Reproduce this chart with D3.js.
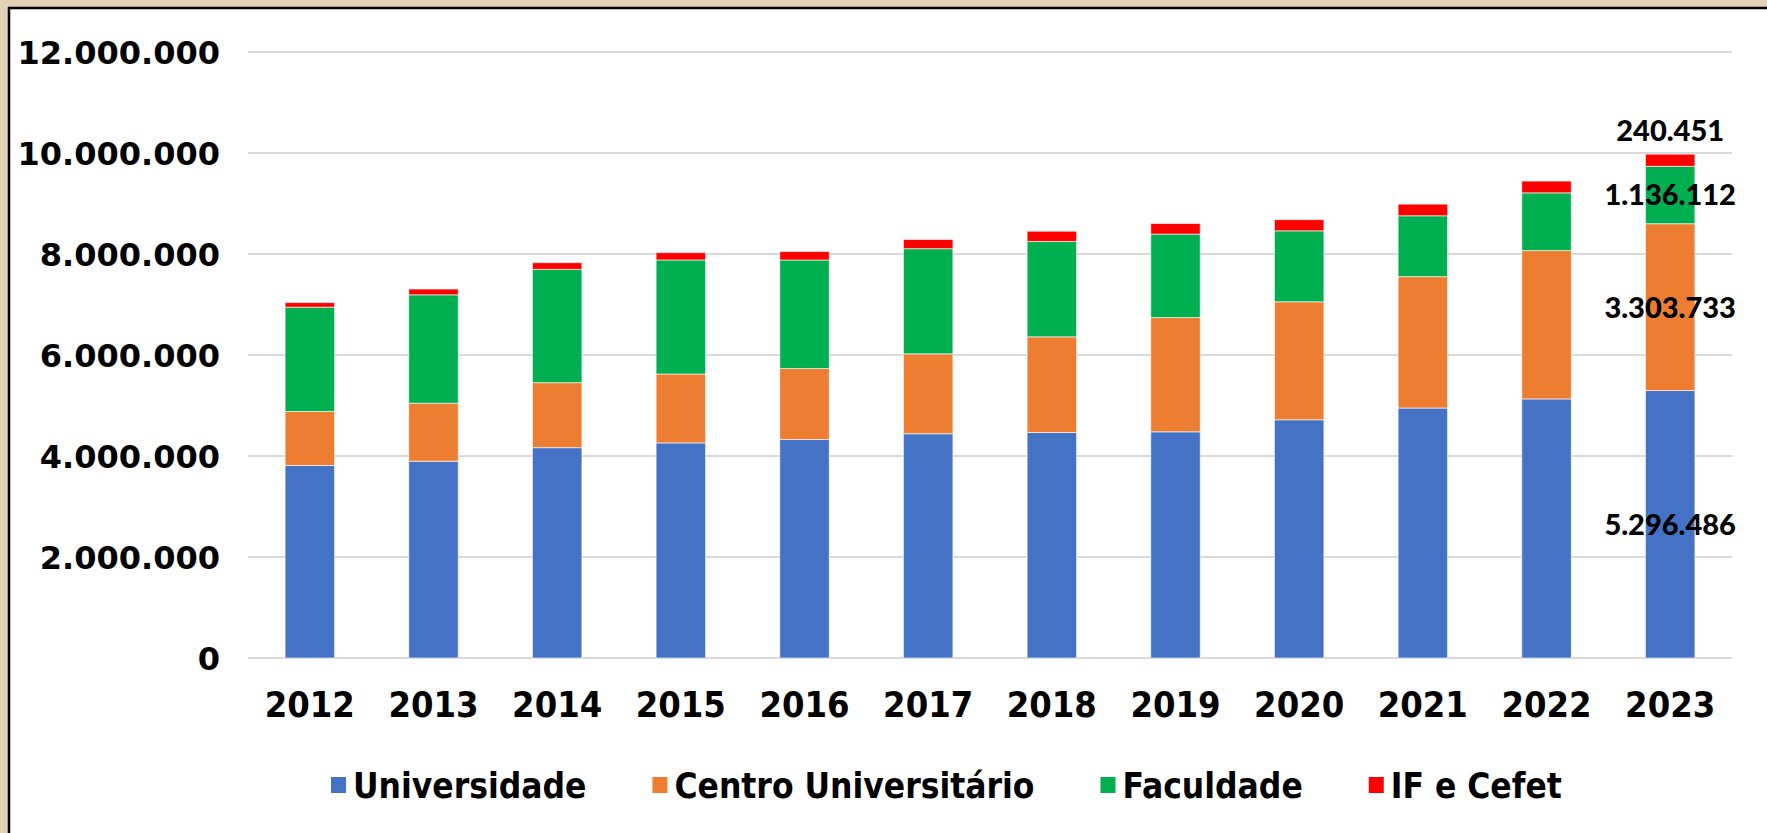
<!DOCTYPE html>
<html>
<head>
<meta charset="utf-8">
<script src="https://cdn.jsdelivr.net/npm/d3@7"></script>
<style>
  html, body { margin: 0; padding: 0; background: #e2d3b8; }
  svg { display: block; }
</style>
</head>
<body>
<div class="vis-stack"></div>
<script>
// matrículas por organização acadêmica, 2012-2023
const years = ['2012', '2013', '2014', '2015', '2016', '2017', '2018', '2019', '2020', '2021', '2022', '2023'];
const seriesNames = ['Universidade', 'Centro Universitário', 'Faculdade', 'IF e Cefet'];
const universidade = [3812000, 3896000, 4165000, 4259000, 4327000, 4441000, 4465000, 4479000, 4717000, 4950000, 5130000, 5296486];
const centroUniv = [1070000, 1150000, 1287000, 1365000, 1406000, 1582000, 1895000, 2263000, 2337000, 2602000, 2938000, 3303733];
const faculdade = [2065000, 2146000, 2244000, 2258000, 2148000, 2082000, 1889000, 1652000, 1405000, 1205000, 1143000, 1136112];
const ifCefet = [91000, 114000, 132000, 145000, 168000, 182000, 202000, 210000, 221000, 230000, 233000, 240451];
const colors = ['#4472C4', '#ED7D31', '#00B050', '#FF0000'];
const yTicks = [0, 2000000, 4000000, 6000000, 8000000, 10000000, 12000000];

const W = 1767, H = 833;
const margin = { top: 52, right: 35, bottom: 175, left: 248 };

const fmt = (v) => d3.format(',')(v).replace(/,/g, '.');

const dataset = years.map((y, i) => ({
  year: y,
  'Universidade': universidade[i],
  'Centro Universitário': centroUniv[i],
  'Faculdade': faculdade[i],
  'IF e Cefet': ifCefet[i]
}));

const svg = d3.select('.vis-stack').append('svg').attr('width', W).attr('height', H);

// parchment edge + white chart panel
svg.append('rect').attr('x', 0).attr('y', 0).attr('width', W).attr('height', H).attr('fill', '#e2d3b8');
svg.append('rect').attr('x', 9).attr('y', 8).attr('width', W).attr('height', H)
  .attr('fill', '#fff').attr('stroke', '#000').attr('stroke-width', 2.5);

const x = d3.scaleBand().domain(years).range([margin.left, W - margin.right]).paddingInner(0.6).paddingOuter(0.3);
const y = d3.scaleLinear().domain([0, 12000000]).range([658, margin.top]);

// gridlines
svg.append('g').selectAll('line').data(yTicks).enter().append('line')
  .attr('x1', margin.left).attr('x2', W - margin.right)
  .attr('y1', (d) => y(d)).attr('y2', (d) => y(d))
  .attr('stroke', '#d9d9d9').attr('stroke-width', 2);

// y tick labels
svg.append('g').selectAll('text').data(yTicks).enter().append('text')
  .attr('x', 220).attr('y', (d) => y(d)).attr('dy', '0.36em')
  .attr('text-anchor', 'end')
  .style('font-family', 'DejaVu Sans').style('font-weight', 'bold').style('font-size', '32px')
  .text((d) => fmt(d));

const stack = d3.stack().keys(seriesNames);
const layers = stack(dataset);

const layerG = svg.selectAll('.layer').data(layers).enter().append('g')
  .attr('class', 'layer').attr('fill', (d, i) => colors[i]);

layerG.selectAll('rect').data((d) => d).enter().append('rect')
  .attr('x', (d) => x(d.data.year))
  .attr('width', x.bandwidth())
  .attr('y', (d) => y(d[1]))
  .attr('height', (d) => y(d[0]) - y(d[1]))
  .attr('stroke', 'rgba(255,255,255,0.6)').attr('stroke-width', 1);

// x labels
svg.append('g').selectAll('text').data(years).enter().append('text')
  .attr('x', (d) => x(d) + x.bandwidth() / 2).attr('y', 717)
  .attr('text-anchor', 'middle')
  .style('font-family', 'DejaVu Sans Condensed').style('font-weight', 'bold').style('font-size', '36px')
  .text((d) => d);

// data labels for last year
const last = years.length - 1;
const lblX = x(years[last]) + x.bandwidth() / 2;
const lbls = layers.map((L, i) => {
  const d = L[last];
  const v = d[1] - d[0];
  const yy = i === layers.length - 1 ? y(d[1]) - 24 : y((d[0] + d[1]) / 2);
  return { v, yy };
});
svg.append('g').selectAll('text').data(lbls).enter().append('text')
  .attr('x', lblX).attr('y', (d) => d.yy).attr('dy', '0.36em')
  .attr('text-anchor', 'middle')
  .style('font-family', 'Lato').style('font-weight', '900').style('font-size', '29px')
  .text((d) => fmt(d.v));

// legend
const legend = svg.append('g');
let lx = 331;
seriesNames.forEach((name, i) => {
  const g = legend.append('g').attr('transform', 'translate(' + lx + ',785)');
  g.append('rect').attr('x', 0).attr('y', -8).attr('width', 15).attr('height', 16).attr('fill', colors[i]);
  const t = g.append('text').attr('x', 22).attr('dy', '0.36em')
    .style('font-family', 'DejaVu Sans Condensed').style('font-weight', 'bold').style('font-size', '35px')
    .text(name);
  lx += 22 + t.node().getComputedTextLength() + 66;
});
</script>
</body>
</html>
